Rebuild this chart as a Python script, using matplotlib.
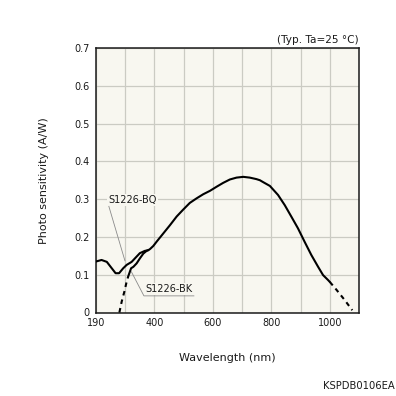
import matplotlib
matplotlib.use("Agg")
import matplotlib.pyplot as plt

# S1226-BQ (quartz window), solid curve
bq_wl = [200, 219, 237, 254, 267, 279, 293, 305, 322, 339, 350, 367, 379, 385, 396,
         408, 430, 453, 476, 498, 521, 544, 567, 590, 613, 635, 658, 681, 704, 726,
         749, 761, 772, 795, 823, 846, 869, 891, 914, 937, 960, 977, 994, 1000]
bq_val = [0.135, 0.139, 0.134, 0.117, 0.104, 0.104, 0.117, 0.126, 0.134, 0.148, 0.157,
          0.163, 0.165, 0.168, 0.176, 0.188, 0.209, 0.231, 0.254, 0.272, 0.290, 0.302,
          0.313, 0.322, 0.333, 0.343, 0.352, 0.357, 0.359, 0.357, 0.353, 0.350, 0.345,
          0.335, 0.311, 0.284, 0.253, 0.223, 0.187, 0.152, 0.121, 0.099, 0.086, 0.081]

# long-wavelength tail (dashed)
tail_wl = [1000, 1023, 1051, 1077]
tail_val = [0.081, 0.060, 0.033, 0.006]

# S1226-BK (borosilicate window)
bk_dash_wl = [280, 288, 297, 305, 310]
bk_dash_val = [0.0, 0.029, 0.055, 0.082, 0.095]
bk_wl = [310, 320, 328, 339, 350, 362, 373, 379]
bk_val = [0.095, 0.117, 0.121, 0.130, 0.143, 0.156, 0.163, 0.165]

xticks = [200, 400, 600, 800, 1000]
xtick_labels = ["190", "400", "600", "800", "1000"]
xgrid = [300, 500, 700, 900]
yticks = [0, 0.1, 0.2, 0.3, 0.4, 0.5, 0.6, 0.7]
ytick_labels = ["0", "0.1", "0.2", "0.3", "0.4", "0.5", "0.6", "0.7"]

face = "#f8f7f0"
gridc = "#cbcbc3"
txt = "#1a1a1a"
plt.rcParams["font.family"] = ["DejaVu Sans"]

fig = plt.figure(figsize=(3.96, 3.96), dpi=100)
ax = fig.add_axes([96 / 396, (396 - 312.5) / 396, 263 / 396, 264.5 / 396])
ax.set_facecolor(face)

ax.set_xlim(200, 1100)
ax.set_ylim(0, 0.7)
ax.set_xticks(xticks)
ax.set_xticklabels(xtick_labels)
ax.set_xticks(xgrid, minor=True)
ax.set_yticks(yticks)
ax.set_yticklabels(ytick_labels)
ax.tick_params(which="both", length=0, labelsize=7, colors=txt)
ax.tick_params(axis="y", pad=4.5)
ax.tick_params(axis="x", pad=4)
ax.grid(which="both", color=gridc, linewidth=0.9)
ax.set_axisbelow(True)
for s in ax.spines.values():
    s.set_linewidth(1.1)
    s.set_color(txt)

lw = 1.5
ax.plot(bq_wl, bq_val, color="black", lw=lw, solid_capstyle="round",
        solid_joinstyle="round", zorder=3)
ax.plot(tail_wl, tail_val, color="black", lw=lw, ls=(0, (2.2, 2.0)), zorder=3)
ax.plot(bk_wl, bk_val, color="black", lw=lw, solid_capstyle="round",
        solid_joinstyle="round", zorder=3)
ax.plot(bk_dash_wl, bk_dash_val, color="black", lw=lw, ls=(0, (2.2, 2.0)), zorder=3)

# curve labels with leader lines
ax.text(326, 0.298, "S1226-BQ", fontsize=7, ha="center", va="center", color=txt,
        bbox=dict(facecolor=face, edgecolor="none", pad=1.0), zorder=4)
ax.plot([244, 299], [0.281, 0.137], color="#8a8a8a", lw=0.6, zorder=4)

ax.text(450, 0.062, "S1226-BK", fontsize=7, ha="center", va="center", color=txt,
        bbox=dict(facecolor=face, edgecolor="none", pad=1.0), zorder=4)
ax.plot([321, 364, 535], [0.108, 0.044, 0.044], color="#8a8a8a", lw=0.6, zorder=5)

ax.text(1.0, 1.012, "(Typ. Ta=25 \u00b0C)", transform=ax.transAxes, ha="right",
        va="bottom", fontsize=7.6, color=txt)

ax.set_xlabel("Wavelength (nm)", fontsize=8, color=txt)
ax.set_ylabel("Photo sensitivity (A/W)", fontsize=8, color=txt)
ax.xaxis.set_label_coords(0.5, -0.153)
ax.yaxis.set_label_coords(-0.177, 0.5)

fig.text(395 / 396, 1 - 386 / 396, "KSPDB0106EA", ha="right", va="center",
         fontsize=7.2, color=txt)

fig.savefig("out.png", dpi=100, facecolor="white")
